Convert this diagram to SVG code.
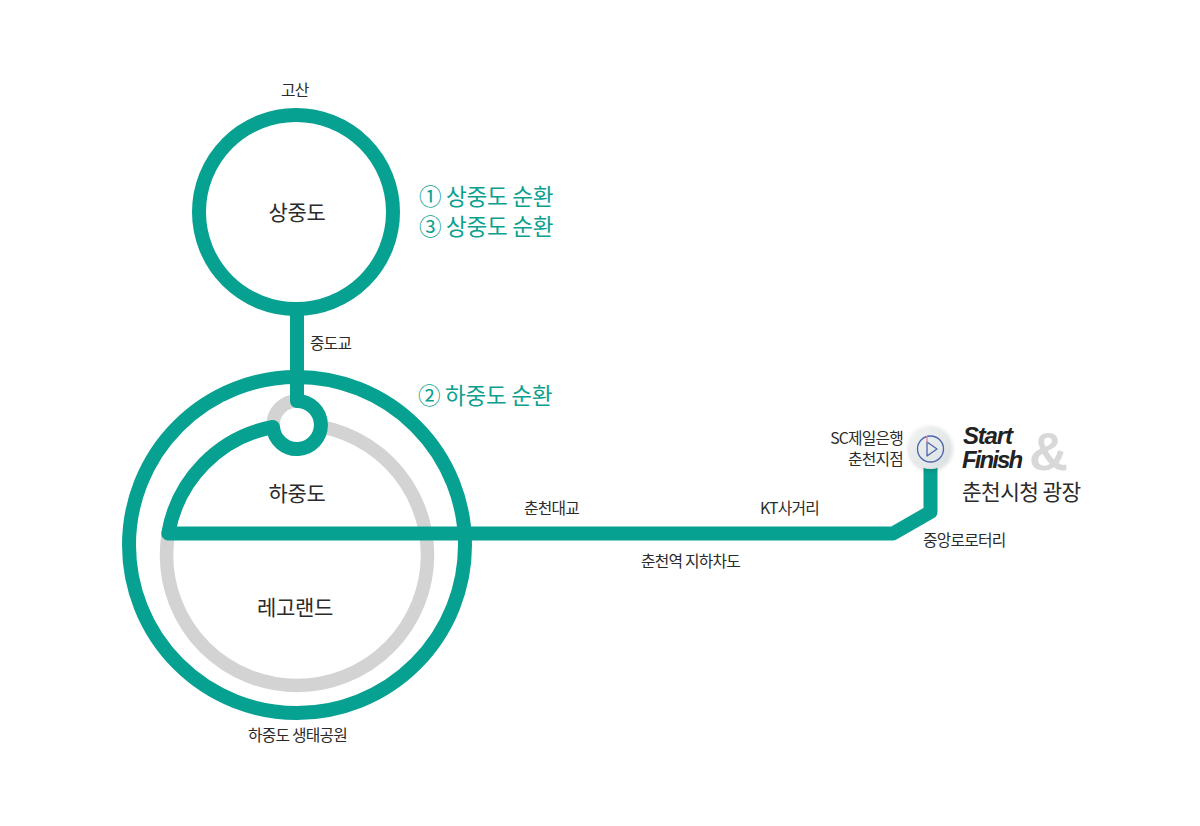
<svg xmlns="http://www.w3.org/2000/svg" width="1200" height="826" viewBox="0 0 1200 826">
<style>
text{font-family:"Noto Sans CJK KR","Noto Sans",sans-serif;fill:#2b2b2b}
.sm{font-size:15.800px;letter-spacing:-.8px}
.md{font-size:21px;letter-spacing:-.3px;text-anchor:middle}
.gr{font-size:22.600px;fill:#0ca08f;letter-spacing:-.3px}
.en{font-family:"Liberation Sans",sans-serif;font-size:24px;font-weight:bold;font-style:italic;letter-spacing:-1.2px;fill:#222}
.t{fill:none;stroke:#07a192;stroke-width:14;stroke-linejoin:round;stroke-linecap:round}
.g{fill:none;stroke:#d3d3d3;stroke-width:13.5}
</style>
<defs>
<filter id="sh" x="-40%" y="-40%" width="180%" height="180%"><feDropShadow dx="0" dy="1" stdDeviation="2.5" flood-color="#000" flood-opacity=".22"/></filter>
<linearGradient id="disc" x1="0" y1="0" x2="1" y2="1"><stop offset="0" stop-color="#f2f3f3"/><stop offset="1" stop-color="#d9e0e2"/></linearGradient>
</defs>
<rect width="1200" height="826" fill="#fff"/>
<g id="connectors">
<circle class="g" cx="297" cy="555" r="130.500"/>
<circle class="g" cx="297" cy="425" r="24" style="fill:#fff"/>
<circle class="t" cx="296" cy="212" r="97"/>
<circle class="t" cx="297" cy="545" r="168"/>
<path class="t" d="M297 310V401A24 24 0 1 1 273 427A130.500 130.500 0 0 0 168.300 533.500H893L930.500 512V465"/>
</g>
<g id="node-sangjungdo"><text class="md" x="297" y="220">상중도</text></g>
<g id="node-gosan"><text class="sm" x="281" y="96">고산</text></g>
<g id="node-bridge"><text class="sm" x="310" y="349">중도교</text></g>
<g id="node-hajungdo"><text class="md" x="297" y="501">하중도</text></g>
<g id="node-legoland"><text class="md" x="295" y="615">레고랜드</text></g>
<g id="node-park"><text class="sm" x="248" y="741">하중도 생태공원</text></g>
<g id="node-route"><text class="gr" x="419" y="205">① 상중도 순환</text><text class="gr" x="419" y="235">③ 상중도 순환</text><text class="gr" x="418" y="404">② 하중도 순환</text></g>
<g id="node-daegyo"><text class="sm" x="524" y="514">춘천대교</text></g>
<g id="node-kt"><text class="sm" x="760" y="514">KT사거리</text></g>
<g id="node-underpass"><text class="sm" x="641" y="567">춘천역 지하차도</text></g>
<g id="node-rotary"><text class="sm" x="923" y="546">중앙로로터리</text></g>
<g id="node-sc"><text class="sm" x="903" y="444" text-anchor="end">SC제일은행</text><text class="sm" x="903" y="465" text-anchor="end">춘천지점</text></g>
<g id="node-start">
<circle cx="930.500" cy="448" r="21" fill="url(#disc)" filter="url(#sh)"/>
<circle cx="930.500" cy="449" r="13" fill="none" stroke="#4d64ad" stroke-width="1.300"/>
<path d="M927 442L937 449L927 456Z" fill="none" stroke="#4d64ad" stroke-width="1.300" stroke-linejoin="round"/>
<path d="M927 436V443" stroke="#e08aa0" stroke-width="1.300"/>
</g>
<g id="node-finish">
<text x="1029" y="470" style="font-family:'Liberation Sans',sans-serif;font-size:54px;font-weight:bold;fill:#d8d8d8">&amp;</text>
<text class="en" x="963" y="444">Start</text><text class="en" x="962" y="468" style="letter-spacing:-1.900px">Finish</text>
<text x="962" y="500" style="font-size:21.400px;letter-spacing:-.6px">춘천시청 광장</text>
</g>
</svg>
